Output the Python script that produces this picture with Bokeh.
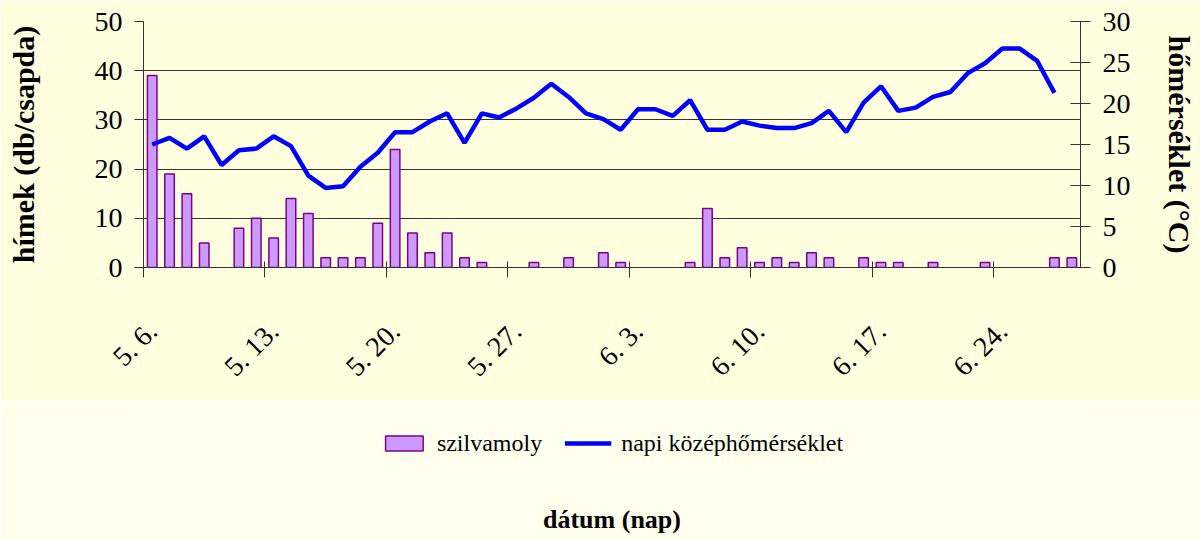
import pandas as pd
from bokeh.plotting import figure
from bokeh.layouts import column
from bokeh.models import (ColumnDataSource, Range1d, LinearAxis, FixedTicker,
                          Legend, LegendItem, Grid)
from bokeh.embed import file_html
from bokeh.resources import INLINE

# ---- data -------------------------------------------------------------
dates = [f"{d.month}. {d.day}." for d in pd.date_range("2000-05-06", "2000-06-28")]
moths = [39, 19, 15, 5, 0, 8, 10, 6, 14, 11, 2, 2, 2, 9, 24, 7, 3, 7, 2, 1,
         0, 0, 1, 0, 2, 0, 3, 1, 0, 0, 0, 1, 12, 2, 4, 1, 2, 1, 3, 2,
         0, 2, 1, 1, 0, 1, 0, 0, 1, 0, 0, 0, 2, 2]
temps = [15.0, 15.8, 14.5, 16.0, 12.5, 14.3, 14.5, 16.0, 14.8, 11.2,
         9.7, 9.9, 12.3, 14.0, 16.5, 16.5, 17.8, 18.8, 15.2, 18.8,
         18.3, 19.4, 20.7, 22.4, 20.8, 18.8, 18.1, 16.8, 19.3, 19.3,
         18.5, 20.4, 16.8, 16.8, 17.8, 17.3, 17.0, 17.0, 17.6, 19.1,
         16.5, 20.1, 22.1, 19.1, 19.5, 20.8, 21.4, 23.7, 24.9, 26.7,
         26.7, 25.2, 21.3]
label_days = ["5. 6.", "5. 13.", "5. 20.", "5. 27.", "6. 3.", "6. 10.", "6. 17.", "6. 24."]

FONT = "Liberation Serif"
BG_TOP = "#FFFFE0"
BG_BOTTOM = "#FFFFEE"
AX = "#333333"
BAR_FILL, BAR_LINE, LINE_COL = "#CC99FF", "#800080", "#0000FF"

idx = list(range(len(dates)))
bar_src = ColumnDataSource(dict(x=[i for i in idx if moths[i] > 0],
                                top=[moths[i] for i in idx if moths[i] > 0]))
line_src = ColumnDataSource(dict(x=idx[:len(temps)], y=temps))

# ---- main chart -------------------------------------------------------
p = figure(width=1200, height=400, output_backend="svg", toolbar_location=None,
           x_range=Range1d(-0.5, len(dates) - 0.5), y_range=Range1d(0, 50),
           min_border_left=143, min_border_right=120, min_border_top=21,
           min_border_bottom=133, title=None, x_axis_type=None, y_axis_type=None)
p.background_fill_color = BG_TOP
p.border_fill_color = BG_TOP
p.outline_line_color = None
p.extra_y_ranges = {"temp": Range1d(0, 30)}

p.vbar(x="x", top="top", width=0.55, bottom=0, source=bar_src,
       fill_color=BAR_FILL, line_color=BAR_LINE, line_width=1.5)
p.line(x="x", y="y", source=line_src, y_range_name="temp",
       line_color=LINE_COL, line_width=4.5)

tick_pos = [dates.index(d) for d in label_days]
xaxis = LinearAxis(ticker=FixedTicker(ticks=tick_pos,
                                      minor_ticks=[t - 0.5 for t in tick_pos]),
                   major_label_overrides={t: d for t, d in zip(tick_pos, label_days)})
xaxis.major_label_orientation = 0.785398
xaxis.major_tick_in = 0
xaxis.major_tick_out = 0
xaxis.minor_tick_in = 6
xaxis.minor_tick_out = 10
xaxis.minor_tick_line_color = AX
xaxis.major_label_standoff = 49
xaxis.major_label_text_font = FONT
xaxis.major_label_text_font_size = "28px"
xaxis.major_label_text_color = "black"
xaxis.axis_line_color = AX
p.add_layout(xaxis, "below")

yl = LinearAxis(ticker=FixedTicker(ticks=[0, 10, 20, 30, 40, 50]))
yl.axis_label = "hímek (db/csapda)"
yl.major_tick_in = 0
yl.major_tick_out = 9
yl.major_label_standoff = 12
yl.axis_label_standoff = 52
p.add_layout(yl, "left")

yr = LinearAxis(y_range_name="temp", ticker=FixedTicker(ticks=[0, 5, 10, 15, 20, 25, 30]))
yr.axis_label = "hőmérséklet (°C)"
yr.major_tick_in = 10
yr.major_tick_out = 10
yr.major_label_standoff = 12
yr.axis_label_standoff = 29
p.add_layout(yr, "right")

for ax in (yl, yr):
    ax.minor_tick_line_color = None
    ax.axis_line_color = AX
    ax.major_tick_line_color = AX
    ax.major_label_text_font = FONT
    ax.major_label_text_font_size = "28px"
    ax.major_label_text_color = "black"
    ax.axis_label_text_font = FONT
    ax.axis_label_text_font_style = "bold"
    ax.axis_label_text_font_size = "30px"
    ax.axis_label_text_color = "black"

p.add_layout(Grid(dimension=1, ticker=yl.ticker, grid_line_color=AX,
                  grid_line_width=1))

# ---- legend + x title strip ------------------------------------------
p2 = figure(width=1200, height=140, output_backend="svg", toolbar_location=None,
            x_range=Range1d(-0.5, len(dates) - 0.5), y_range=Range1d(0, 50),
            min_border_left=143, min_border_right=120, min_border_top=0,
            min_border_bottom=54, title=None, x_axis_type=None, y_axis_type=None)
p2.background_fill_color = BG_BOTTOM
p2.border_fill_color = BG_BOTTOM
p2.outline_line_color = None

# legend swatches (the renderers themselves are hidden in this strip)
lg_bar = p2.vbar(x="x", top="top", width=0.55, bottom=0, source=bar_src,
                 fill_color=BAR_FILL, line_color=BAR_LINE, line_width=1.5)
lg_line = p2.line(x="x", y="y", source=line_src,
                  line_color=LINE_COL, line_width=4.5)
lg_bar.visible = False
lg_line.visible = False

legend = Legend(items=[LegendItem(label="szilvamoly", renderers=[lg_bar]),
                       LegendItem(label="napi középhőmérséklet", renderers=[lg_line])],
                location="center", orientation="horizontal",
                background_fill_alpha=0, border_line_color=None,
                inactive_fill_alpha=0,
                padding=0, margin=0, spacing=22, label_standoff=10,
                glyph_width=47, glyph_height=19,
                label_text_font=FONT, label_text_font_size="24px",
                label_text_color="black")
p2.add_layout(legend, "center")

xt = LinearAxis(ticker=FixedTicker(ticks=[]))
xt.axis_line_color = None
xt.major_tick_line_color = None
xt.minor_tick_line_color = None
xt.major_tick_in = 0
xt.major_tick_out = 0
xt.major_label_standoff = 0
xt.axis_label = "dátum (nap)"
xt.axis_label_standoff = 18
xt.axis_label_text_font = FONT
xt.axis_label_text_font_style = "bold"
xt.axis_label_text_font_size = "26px"
xt.axis_label_text_color = "black"
p2.add_layout(xt, "below")

layout = column(p, p2, spacing=0)
open("out.html", "w").write(file_html(layout, INLINE))
